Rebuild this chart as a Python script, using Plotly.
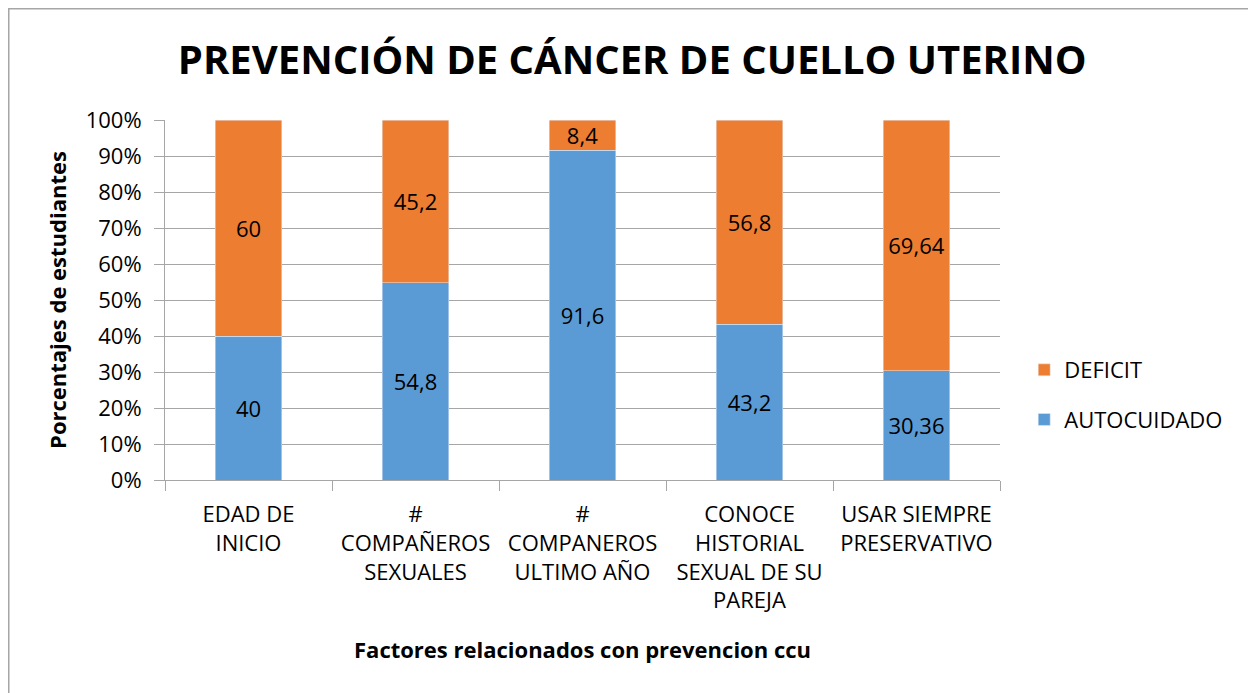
import plotly.graph_objects as go

categories = ["EDAD DE<br>INICIO", "#<br>COMPAÑEROS<br>SEXUALES", "#<br>COMPANEROS<br>ULTIMO AÑO",
              "CONOCE<br>HISTORIAL<br>SEXUAL DE SU<br>PAREJA", "USAR SIEMPRE<br>PRESERVATIVO"]
autocuidado = [40, 54.8, 91.6, 43.2, 30.36]
deficit = [60, 45.2, 8.4, 56.8, 69.64]
y_ticks = [0, 10, 20, 30, 40, 50, 60, 70, 80, 90, 100]

FONT = "Open Sans"

def fmt(v):
    return f"{v:g}".replace(".", ",")

fig = go.Figure()
fig.add_trace(go.Bar(
    x=categories, y=autocuidado, name="AUTOCUIDADO", marker_color="#5B9BD5",
    text=[fmt(v) for v in autocuidado], textposition="inside", insidetextanchor="middle",
    constraintext="none",
    textfont=dict(size=22, color="black", family=FONT), legendgroup="a", legendrank=2,
))
fig.add_trace(go.Bar(
    x=categories, y=deficit, name="DEFICIT", marker_color="#ED7D31",
    text=[fmt(v) for v in deficit], textposition="inside", insidetextanchor="middle",
    constraintext="none",
    textfont=dict(size=22, color="black", family=FONT), legendgroup="d", legendrank=1,
))

fig.update_layout(
    barmode="stack", bargap=0.6,
    width=1256, height=693,
    margin=dict(l=157, r=264, t=112, b=221),
    paper_bgcolor="white", plot_bgcolor="white",
    font=dict(family=FONT, size=22, color="black"),
    title=dict(text="<b>PREVENCIÓN DE CÁNCER DE CUELLO UTERINO</b>", x=0.497, xanchor="center",
               y=0.925, yanchor="middle", font=dict(size=40, family=FONT, color="black")),
    legend=dict(x=1.029, xanchor="left", y=0.236, yanchor="middle", traceorder="grouped",
                tracegroupgap=18, font=dict(size=22, family=FONT), itemwidth=30),
    uniformtext=dict(mode=False),
    shapes=[dict(type="rect", xref="paper", yref="paper", x0=-0.1874, x1=2, y0=-2, y1=1.3097,
                 line=dict(color="#A6A6A6", width=2), fillcolor="rgba(0,0,0,0)", layer="below")],
)
fig.update_yaxes(range=[0, 100], tickvals=y_ticks, ticktext=[f"{v}%" for v in y_ticks],
                 showgrid=True, gridcolor="#A6A6A6", gridwidth=1,
                 showline=True, linecolor="#A6A6A6", linewidth=1,
                 ticks="outside", ticklen=10, tickcolor="#A6A6A6", ticklabelstandoff=8,
                 tickfont=dict(size=22, family=FONT),
                 title=dict(text="<b>Porcentajes de estudiantes</b>", font=dict(size=22, family=FONT), standoff=12))
fig.update_xaxes(showline=True, linecolor="#A6A6A6", linewidth=1,
                 ticks="outside", ticklen=10, tickcolor="#A6A6A6", tickson="boundaries",
                 ticklabelstandoff=15,
                 tickfont=dict(size=22, family=FONT), tickangle=0,
                 title=dict(text="<b>Factores relacionados con prevencion ccu</b>", font=dict(size=22, family=FONT), standoff=29))

fig.write_html("out.html")
